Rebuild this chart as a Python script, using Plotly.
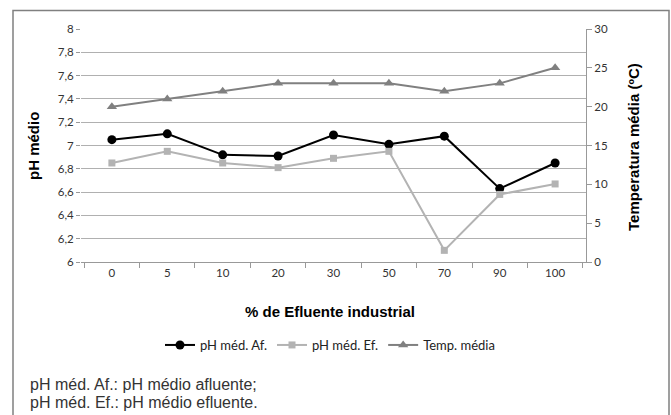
import plotly.graph_objects as go

categories = ["0", "5", "10", "20", "30", "50", "70", "90", "100"]
ph_af = [7.05, 7.10, 6.92, 6.91, 7.09, 7.01, 7.08, 6.63, 6.85]
ph_ef = [6.85, 6.95, 6.85, 6.81, 6.89, 6.95, 6.10, 6.58, 6.67]
temp = [20, 21, 22, 23, 23, 23, 22, 23, 25]

W, H = 671, 415
L, R, T, B = 81, 586, 29, 262

def px(x):
    return (x - L) / (R - L)

def py(y):
    return (B - y) / (B - T)

tickfont = dict(family="Lato, Open Sans, sans-serif", size=11.5, color="#333333")

fig = go.Figure()
fig.add_trace(go.Scatter(x=categories, y=ph_af, name="pH méd. Af.", mode="lines+markers",
                         line=dict(color="#000000", width=2),
                         marker=dict(symbol="circle", size=9, color="#000000")))
fig.add_trace(go.Scatter(x=categories, y=ph_ef, name="pH méd. Ef.", mode="lines+markers",
                         line=dict(color="#b3b3b3", width=2),
                         marker=dict(symbol="square", size=7, color="#b3b3b3")))
fig.add_trace(go.Scatter(x=categories, y=temp, name="Temp. média", mode="lines+markers",
                         line=dict(color="#808080", width=2),
                         marker=dict(symbol="triangle-up", size=9, color="#808080"),
                         yaxis="y2"))

fig.update_layout(
    width=W, height=H,
    margin=dict(l=L, r=W - R, t=T, b=H - B),
    paper_bgcolor="white", plot_bgcolor="white",
    showlegend=True,
    legend=dict(orientation="h", x=px(330), xanchor="center", y=py(345), yanchor="middle",
                font=dict(family="Lato, Open Sans, sans-serif", size=13, color="#222222"),
                itemwidth=30, tracegroupgap=0, bgcolor="rgba(0,0,0,0)"),
    xaxis=dict(type="category", showgrid=False, showline=True, linecolor="#999999", linewidth=1,
               ticks="outside", tickson="boundaries", ticklen=5, tickcolor="#999999",
               tickfont=tickfont, fixedrange=True),
    yaxis=dict(range=[6, 8], dtick=0.2, showgrid=True, gridcolor="#b0b0b0", gridwidth=1,
               ticks="outside", ticklen=4, tickcolor="#999999", showline=False,
               tickfont=tickfont, zeroline=False, tickformat=",~r"),
    yaxis2=dict(range=[0, 30], dtick=5, overlaying="y", side="right", showgrid=False,
                showline=True, linecolor="#999999", ticks="outside", ticklen=5,
                tickcolor="#999999", tickfont=tickfont, zeroline=False),
    separators=",.",
)

titlefont = dict(family="Liberation Sans, Arial", size=15, color="#000000")
fig.add_annotation(xref="paper", yref="paper", x=px(33), y=py(146), text="<b>pH médio</b>",
                   xanchor="center", yanchor="middle", textangle=-90, showarrow=False, font=titlefont)
fig.add_annotation(xref="paper", yref="paper", x=px(633), y=py(147), text="<b>Temperatura média (ºC)</b>",
                   xanchor="center", yanchor="middle", textangle=-90, showarrow=False, font=titlefont)
fig.add_annotation(xref="paper", yref="paper", x=px(330), y=py(311), text="<b>% de Efluente industrial</b>",
                   xanchor="center", yanchor="middle", showarrow=False, font=titlefont)

# notes
for yy, txt in [(384, "pH méd. Af.: pH médio afluente;"), (402, "pH méd. Ef.: pH médio efluente.")]:
    fig.add_annotation(xref="paper", yref="paper", x=px(28), y=py(yy), xanchor="left", yanchor="middle",
                       text=txt, showarrow=False,
                       font=dict(family="Liberation Sans, Arial", size=16, color="#333333"))

# outer border
fig.add_shape(type="rect", xref="paper", yref="paper", x0=px(13), x1=px(669), y0=py(425), y1=py(10.5),
              line=dict(color="#808080", width=1.5), layer="above")

fig.write_html("out.html", config={"displayModeBar": False},
               post_script="document.body.style.margin='0';document.body.style.overflow='hidden';")
